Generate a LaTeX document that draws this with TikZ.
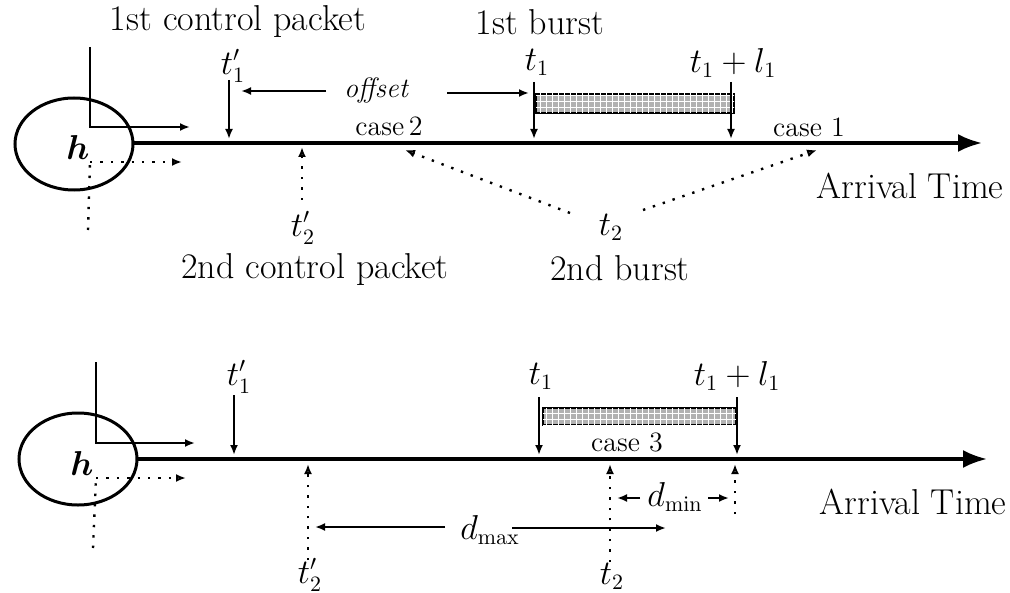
\documentclass[tikz,border=0pt]{standalone}
\usepackage{amsmath}
\usetikzlibrary{arrows.meta,shapes.geometric,patterns}
\begin{document}
\begin{tikzpicture}[x=0.5pt,y=-0.5pt,
  lbl/.style={font=\fontsize{16}{18}\selectfont, inner sep=0pt},
  txt/.style={font=\fontsize{18}{20}\selectfont, inner sep=0pt},
  sm/.style={font=\fontsize{14}{16}\selectfont, inner sep=0pt},
  thinln/.style={line width=1pt},
  tip/.style={thinln,-{Latex[length=5pt,width=4pt]}},
  otip/.style={-{Latex[open,length=5pt,width=4pt]}},
  dots/.style={line width=1.2pt, dash pattern=on 1.2pt off 4pt},
  axis/.style={line width=1.7pt, -{Latex[length=12pt,width=9pt]}},
  host/.style={draw, ellipse, line width=1.5pt, minimum width=59pt, minimum height=46pt, inner sep=0pt},
  burst/.style={draw, line width=1pt, fill=black!30, postaction={pattern=grid, pattern color=white}},
]
\useasboundingbox (0,0) rectangle (1010,593);

% ================= TOP PANEL =================
\node[host] (h1) at (74,144) {};
\node[lbl] (h1l) at (78,148) {$\boldsymbol{h}$};
\coordinate (a1s) at (90,47);
\coordinate (a1c) at (90,127);
\coordinate (a1e) at (190,127);
\draw[tip] (a1s) -- (a1c) -- (a1e);
\coordinate (d1c) at (90,162);
\coordinate (d1e) at (182,162);
\coordinate (d1b) at (88,230);
\draw[dots] (d1b) -- (d1c);
\draw[dots,otip] (d1c) -- (d1e);
\coordinate (ax1s) at (133,143);
\coordinate (ax1e) at (982,143);
\draw[axis] (ax1s) -- (ax1e);

\node[txt] (cp1) at (238,22) {1st control packet};
\node[txt] (b1) at (540,22) {1st burst};
\node[lbl] (tp1) at (233,66) {$t'_1$};
\coordinate (tp1s) at (229,80);
\coordinate (tp1e) at (229,139);
\draw[tip] (tp1s) -- (tp1e);

\node[sm,font=\fontsize{14}{16}\selectfont\itshape] (off) at (376,91) {offset};
\coordinate (offl) at (326,91);
\coordinate (offlt) at (241,91);
\coordinate (offr) at (447,93);
\coordinate (offrt) at (529,93);
\draw[tip] (offl) -- (offlt);
\draw[tip] (offr) -- (offrt);

\node[lbl] (t1) at (537,62) {$t_1$};
\node[lbl] (t1l1) at (733,63) {$t_1+l_1$};
\node[burst, minimum width=99pt, minimum height=9.5pt, anchor=north west] (r1) at (535,93) {};
\coordinate (t1s) at (534,82);
\coordinate (t1e) at (534,139);
\coordinate (t2s) at (731,82);
\coordinate (t2e) at (731,139);
\draw[tip] (t1s) -- (t1e);
\draw[tip] (t2s) -- (t2e);

\node[sm] (c2) at (389,126) {case\,2};
\node[sm] (c1) at (809,127) {case 1};
\node[txt] (at1) at (910,186) {Arrival Time};

\node[lbl] (tq2) at (303,228) {$t'_2$};
\coordinate (tq2s) at (302,200);
\coordinate (tq2e) at (302,147);
\draw[dots,otip] (tq2s) -- (tq2e);
\node[txt] (cp2) at (315,270) {2nd control packet};

\node[lbl] (tb2) at (611,227) {$t_2$};
\coordinate (tb2a) at (570,213);
\coordinate (tb2ae) at (405,150);
\coordinate (tb2b) at (643,210);
\coordinate (tb2be) at (817,150);
\draw[dots,otip] (tb2a) -- (tb2ae);
\draw[dots,otip] (tb2b) -- (tb2be);
\node[txt] (b2) at (620,268) {2nd burst};

% ================= BOTTOM PANEL =================
\node[host] (h2) at (78,459) {};
\node[lbl] (h2l) at (82,463) {$\boldsymbol{h}$};
\coordinate (a2s) at (96,362);
\coordinate (a2c) at (96,443);
\coordinate (a2e) at (195,443);
\draw[tip] (a2s) -- (a2c) -- (a2e);
\coordinate (d2c) at (96,478);
\coordinate (d2e) at (186,478);
\coordinate (d2b) at (93,548);
\draw[dots] (d2b) -- (d2c);
\draw[dots,otip] (d2c) -- (d2e);
\coordinate (ax2s) at (137,459);
\coordinate (ax2e) at (987,459);
\draw[axis] (ax2s) -- (ax2e);

\node[lbl] (tp1b) at (239,377) {$t'_1$};
\coordinate (tp1bs) at (234,395);
\coordinate (tp1be) at (234,455);
\draw[tip] (tp1bs) -- (tp1be);

\node[lbl] (t1b) at (541,376) {$t_1$};
\node[lbl] (t1l1b) at (737,376) {$t_1+l_1$};
\node[burst, minimum width=96.5pt, minimum height=8.5pt, anchor=north west] (r2) at (542,407) {};
\coordinate (t1bs) at (539,397);
\coordinate (t1be) at (539,455);
\coordinate (t2bs) at (737,397);
\coordinate (t2be) at (737,455);
\draw[tip] (t1bs) -- (t1be);
\draw[tip] (t2bs) -- (t2be);

\node[sm] (c3) at (627,442) {case 3};
\node[txt] (at2) at (913,502) {Arrival Time};

\node[lbl] (tq2b) at (310,575) {$t'_2$};
\coordinate (tq2bs) at (308,560);
\coordinate (tq2be) at (308,464);
\draw[dots,otip] (tq2bs) -- (tq2be);

\node[lbl] (tb2b) at (612,576) {$t_2$};
\coordinate (tb2bs) at (610,562);
\coordinate (tb2be) at (610,464);
\draw[dots,otip] (tb2bs) -- (tb2be);

\coordinate (dmn) at (735,514);
\coordinate (dmne) at (735,464);
\draw[dots,otip] (dmn) -- (dmne);

\node[lbl] (dmax) at (490,530) {$d_{\mathrm{max}}$};
\coordinate (dmxl) at (445,527);
\coordinate (dmxlt) at (315,527);
\coordinate (dmxr) at (512,528);
\coordinate (dmxrt) at (666,528);
\draw[tip] (dmxl) -- (dmxlt);
\draw[tip] (dmxr) -- (dmxrt);

\node[lbl] (dmin) at (675,497) {$d_{\mathrm{min}}$};
\coordinate (dmnl) at (640,498);
\coordinate (dmnlt) at (617,498);
\coordinate (dmnr) at (708,498);
\coordinate (dmnrt) at (729,498);
\draw[tip] (dmnl) -- (dmnlt);
\draw[tip] (dmnr) -- (dmnrt);
\end{tikzpicture}
\end{document}
